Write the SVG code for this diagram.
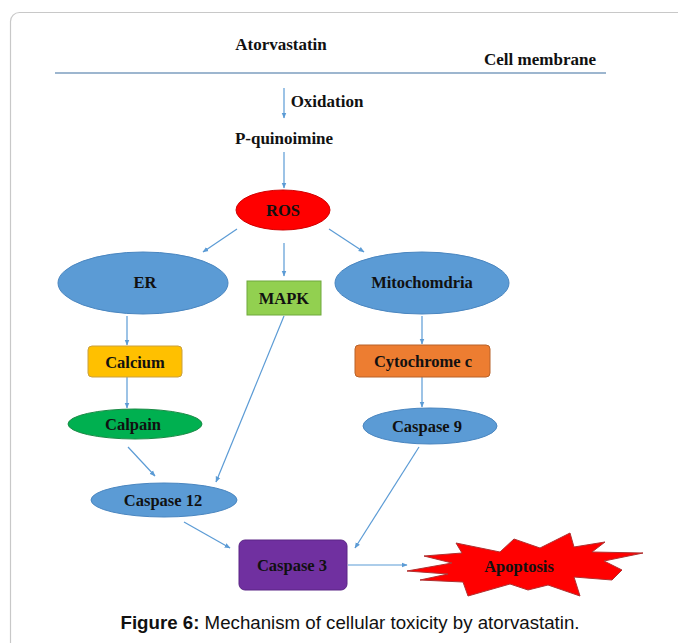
<svg xmlns="http://www.w3.org/2000/svg" width="678" height="643" viewBox="0 0 678 643">
<style>
.t{font-family:"Liberation Serif","Times New Roman",serif;font-weight:bold;font-size:16.5px;fill:#111;text-anchor:middle;dominant-baseline:central}
.h{font-size:17px}
.c{stroke:#5b9bd5;stroke-width:1.2;fill:none;marker-end:url(#ah)}
.blue{fill:#5b9bd5;stroke:#4a86c0;stroke-width:1}
</style>
<defs>
<marker id="ah" viewBox="0 0 10 10" refX="9" refY="5" markerWidth="6" markerHeight="6" orient="auto" markerUnits="userSpaceOnUse">
<path d="M0,1 L10,5 L0,9 z" fill="#5b9bd5"/>
</marker>
</defs>
<rect x="0" y="0" width="678" height="643" fill="#fff"/>
<rect x="10.5" y="12.5" width="720" height="700" rx="9" fill="none" stroke="#c8c8c8" stroke-width="1.2"/>
<g id="membrane">
<line x1="55" y1="73" x2="606" y2="73" stroke="#9db6cf" stroke-width="1.8"/>
<text class="t h" x="281" y="44">Atorvastatin</text>
<text class="t h" x="540" y="59">Cell membrane</text>
</g>
<g id="pquinoimine"><text class="t h" x="284" y="138">P-quinoimine</text></g>
<g id="connectors">
<line class="c" x1="284" y1="88" x2="284" y2="118"/>
<text class="t h" x="327" y="101">Oxidation</text>
<line class="c" x1="284" y1="152" x2="284" y2="188"/>
<line class="c" x1="237" y1="229" x2="203" y2="252"/>
<line class="c" x1="284" y1="243" x2="284" y2="276"/>
<line class="c" x1="329" y1="229" x2="364" y2="252"/>
<line class="c" x1="127" y1="316" x2="127" y2="345"/>
<line class="c" x1="127" y1="377" x2="127" y2="408"/>
<line class="c" x1="422" y1="316" x2="422" y2="344"/>
<line class="c" x1="422" y1="377" x2="422" y2="407"/>
<line class="c" x1="128" y1="447" x2="155" y2="476"/>
<line class="c" x1="284" y1="316" x2="216" y2="482"/>
<line class="c" x1="184" y1="522" x2="230" y2="548"/>
<line class="c" x1="419" y1="447" x2="355" y2="548"/>
<line class="c" x1="348" y1="565" x2="407" y2="565"/>
</g>
<g id="ros">
<ellipse cx="283" cy="210" rx="47" ry="20" fill="#ff0000" stroke="#d00000" stroke-width="1"/>
<text class="t" x="283" y="210">ROS</text>
</g>
<g id="er">
<ellipse class="blue" cx="143" cy="283" rx="85" ry="31"/>
<text class="t" x="145" y="282">ER</text>
</g>
<g id="mapk">
<rect x="247" y="281" width="74" height="34" fill="#92d050" stroke="#6fa83c" stroke-width="1"/>
<text class="t" x="284" y="298">MAPK</text>
</g>
<g id="mitochondria">
<ellipse class="blue" cx="422" cy="283" rx="87" ry="31"/>
<text class="t" x="422" y="282">Mitochomdria</text>
</g>
<g id="calcium">
<rect x="88" y="346" width="94" height="31" rx="4" fill="#ffc000" stroke="#c9a040" stroke-width="1"/>
<text class="t" x="135" y="362">Calcium</text>
</g>
<g id="cytochrome">
<rect x="355" y="345" width="135" height="32" rx="4" fill="#ed7d31" stroke="#b8622a" stroke-width="1"/>
<text class="t" x="423" y="361">Cytochrome c</text>
</g>
<g id="calpain">
<ellipse cx="135" cy="424" rx="67" ry="15" fill="#00b050" stroke="#1a8a45" stroke-width="1"/>
<text class="t" x="133" y="424">Calpain</text>
</g>
<g id="caspase9">
<ellipse class="blue" cx="430" cy="426" rx="67" ry="18"/>
<text class="t" x="427" y="426">Caspase 9</text>
</g>
<g id="caspase12">
<ellipse class="blue" cx="164" cy="500" rx="73" ry="17"/>
<text class="t" x="163" y="500">Caspase 12</text>
</g>
<g id="caspase3">
<rect x="239" y="540" width="108" height="50" rx="6" fill="#7030a0" stroke="#5a2585" stroke-width="1"/>
<text class="t" x="292" y="565">Caspase 3</text>
</g>
<g id="apoptosis">
<polygon points="407,571 452,563 424,556 462,553 456,543 500,552 514,539 540,548 570,533 574,547 605,542 592,552 643,553 604,561 622,570 612,580 574,577 580,596 548,585 528,590 510,584 468,596 463,582 420,580 448,574" fill="#ff0000" stroke="#b03030" stroke-width="1"/>
<text class="t" x="519" y="566">Apoptosis</text>
</g>
<g id="caption">
<text x="350" y="629" font-family="Liberation Sans,Arial,sans-serif" font-size="18.7" fill="#111" text-anchor="middle"><tspan font-weight="bold">Figure 6:</tspan> Mechanism of cellular toxicity by atorvastatin.</text>
</g>
</svg>
